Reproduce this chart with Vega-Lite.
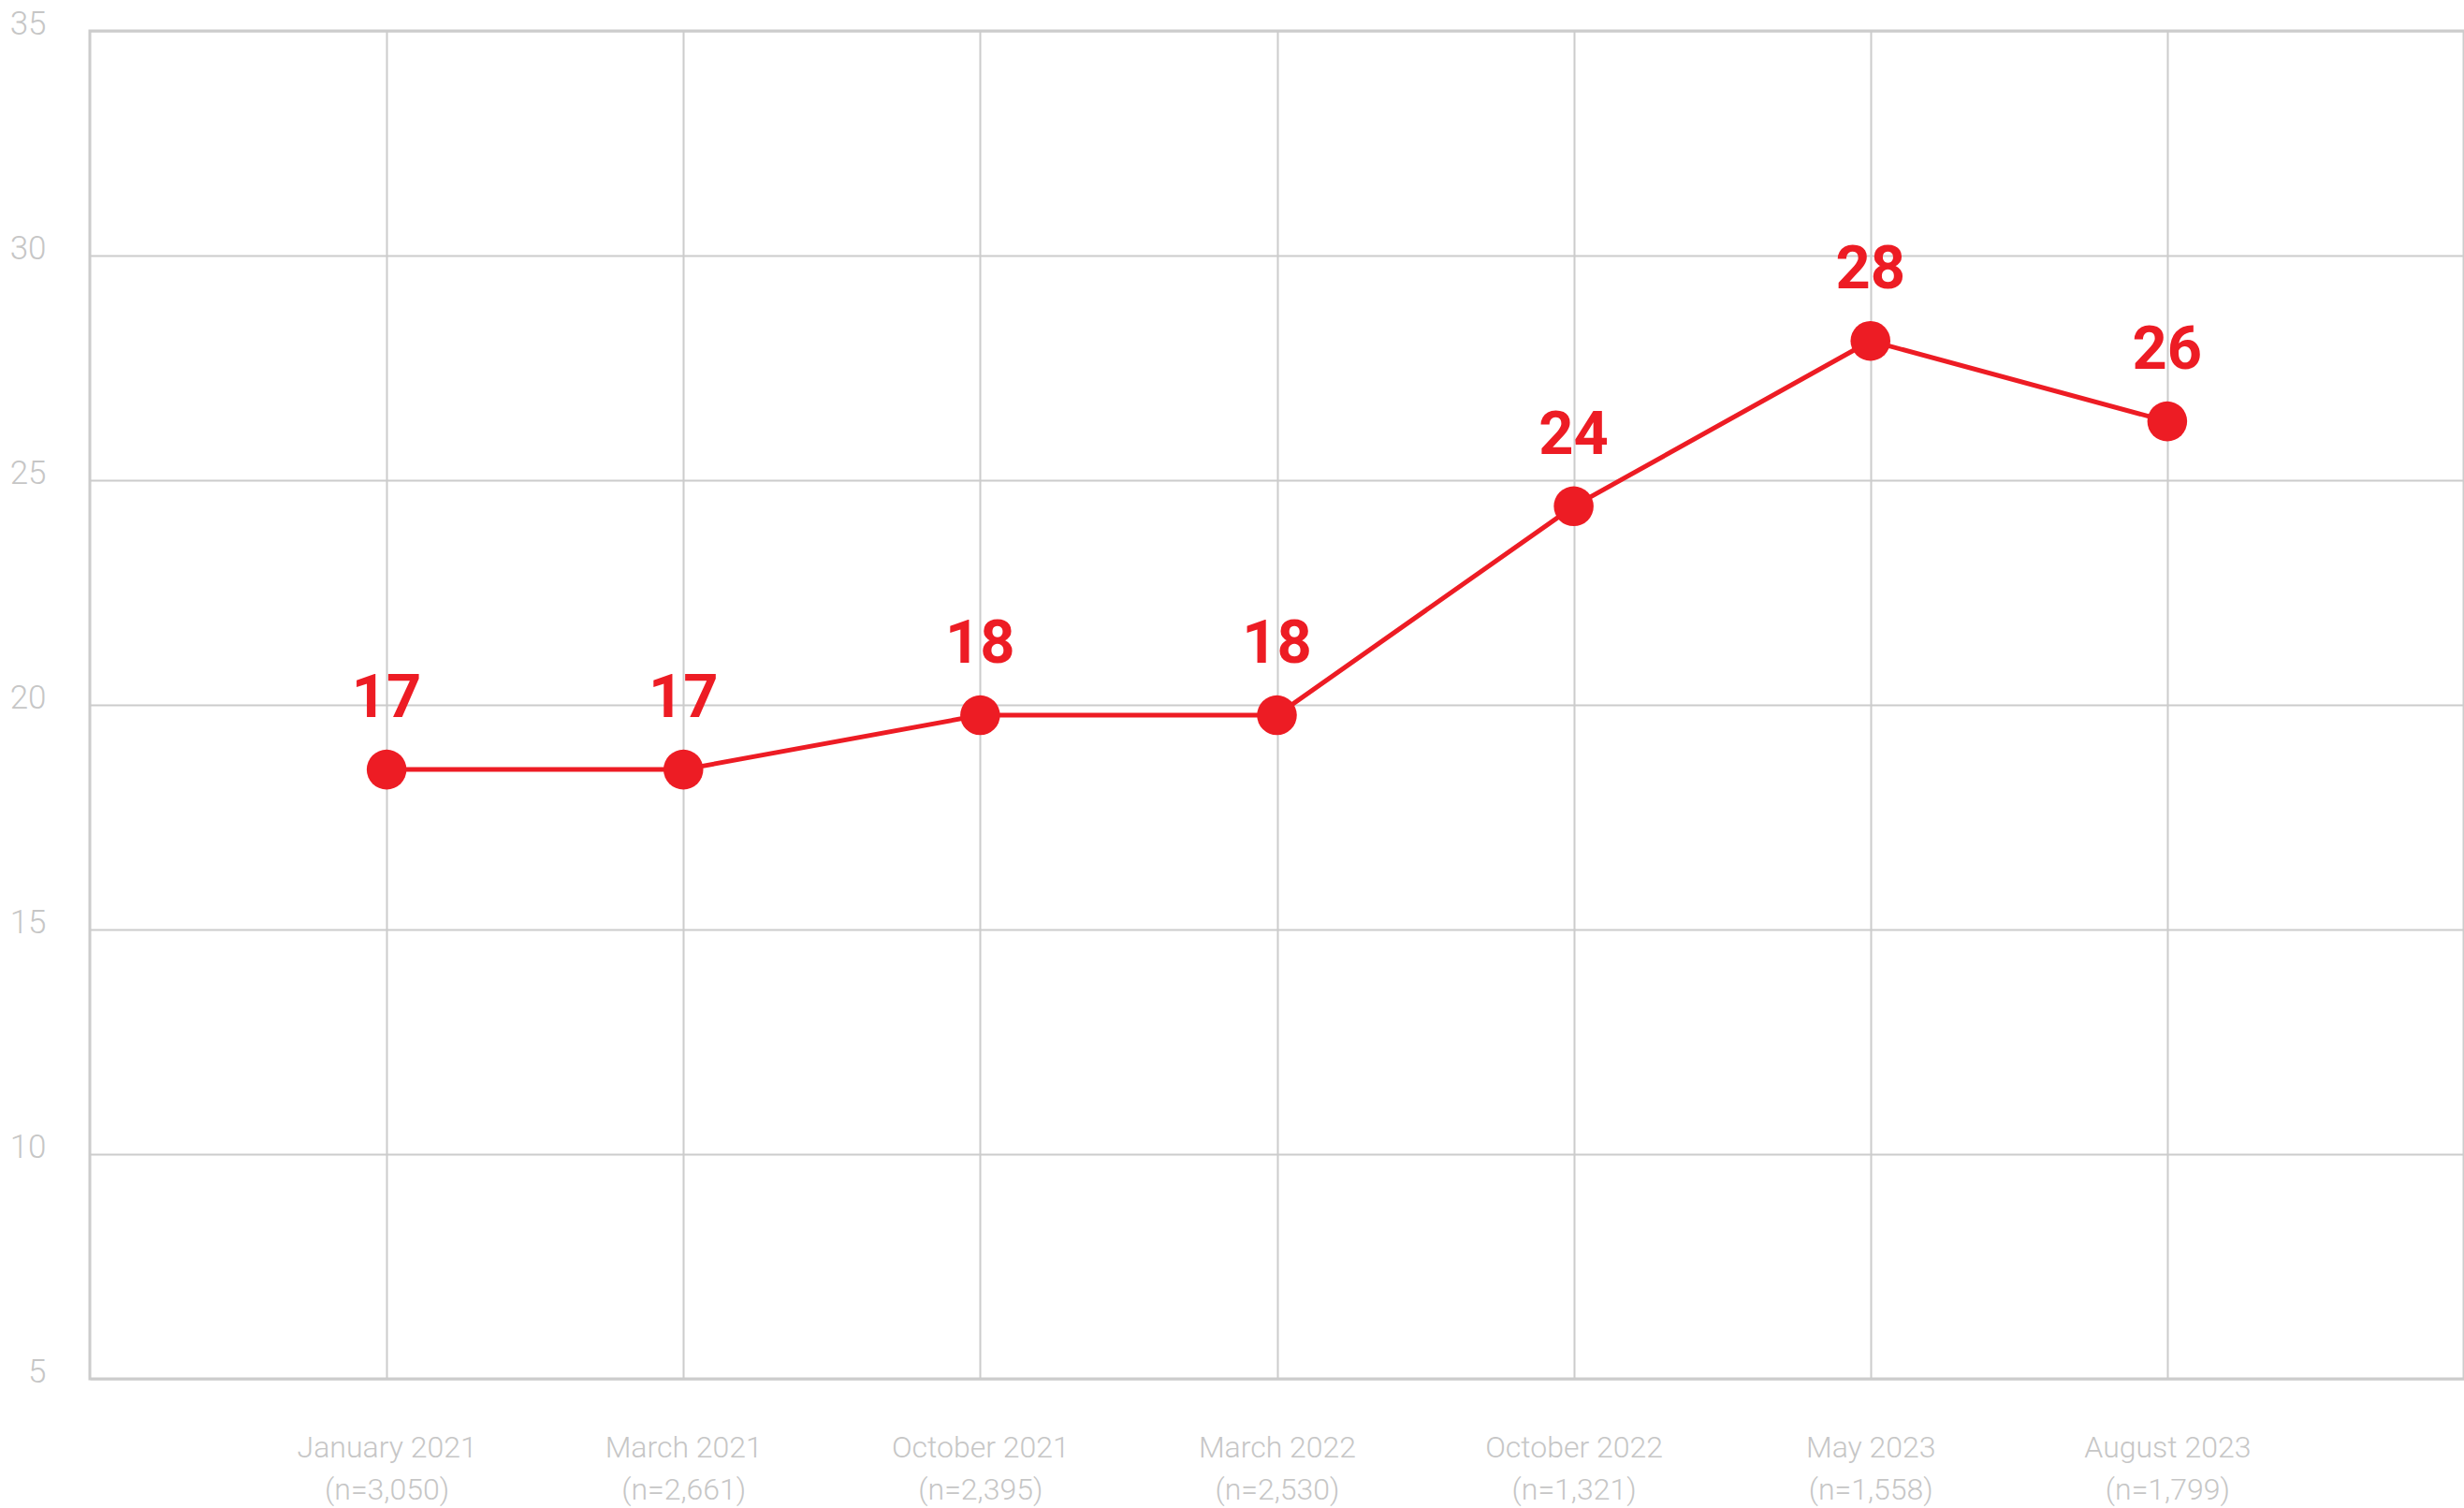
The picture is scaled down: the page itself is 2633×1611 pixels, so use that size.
{
  "$schema": "https://vega.github.io/schema/vega-lite/v6.json",
  "width": 2537,
  "height": 1440,
  "autosize": {"type": "none"},
  "padding": {"left": 96, "top": 33, "right": 0, "bottom": 138},
  "background": "white",
  "config": {
    "view": {"stroke": "#cccccc", "strokeWidth": 3},
    "font": "Roboto"
  },
  "data": {
    "values": [
      {"period": "January 2021|(n=3,050)", "value": 18.56, "label": "17"},
      {"period": "March 2021|(n=2,661)", "value": 18.56, "label": "17"},
      {"period": "October 2021|(n=2,395)", "value": 19.77, "label": "18"},
      {"period": "March 2022|(n=2,530)", "value": 19.77, "label": "18"},
      {"period": "October 2022|(n=1,321)", "value": 24.42, "label": "24"},
      {"period": "May 2023|(n=1,558)", "value": 28.1, "label": "28"},
      {"period": "August 2023|(n=1,799)", "value": 26.31, "label": "26"}
    ]
  },
  "encoding": {
    "x": {
      "field": "period",
      "type": "ordinal",
      "sort": null,
      "scale": {"type": "point", "padding": 1},
      "axis": {
        "title": null,
        "labelExpr": "split(datum.label, '|')",
        "labelAngle": 0,
        "labelLimit": 0,
        "labelFont": "Roboto",
        "labelFontWeight": 300,
        "labelFontSize": 32,
        "labelLineHeight": 45,
        "labelColor": "#c6c6c6",
        "labelPadding": 58,
        "labelBaseline": "top",
        "ticks": false,
        "domain": false,
        "grid": true,
        "gridColor": "#cccccc",
        "gridWidth": 2
      }
    },
    "y": {
      "field": "value",
      "type": "quantitative",
      "scale": {"domain": [5, 35], "nice": false, "zero": false},
      "axis": {
        "title": null,
        "values": [5, 10, 15, 20, 25, 30, 35],
        "labelFont": "Roboto",
        "labelFontWeight": 300,
        "labelFontSize": 35,
        "labelColor": "#c6c6c6",
        "labelPadding": 47,
        "labelBaseline": "alphabetic",
        "labelOffset": 3,
        "labelAlign": "right",
        "ticks": false,
        "domain": false,
        "grid": true,
        "gridColor": "#cccccc",
        "gridWidth": 2
      }
    }
  },
  "layer": [
    {"mark": {"type": "line", "color": "#ED1C24", "strokeWidth": 5}},
    {"mark": {"type": "point", "filled": true, "shape": "circle", "size": 1810, "color": "#ED1C24", "opacity": 1}},
    {
      "mark": {"type": "text", "color": "#ED1C24", "font": "Roboto", "fontWeight": "bold", "fontSize": 65, "baseline": "alphabetic", "align": "center", "dy": -56},
      "encoding": {"text": {"field": "label"}}
    }
  ]
}
